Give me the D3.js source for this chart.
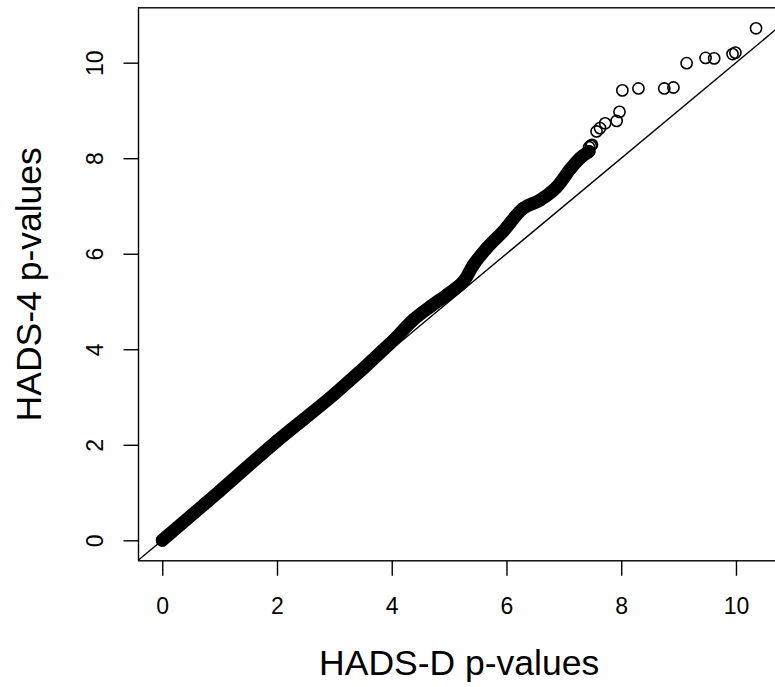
<!DOCTYPE html>
<html>
<head>
<meta charset="utf-8">
<script src="https://cdn.jsdelivr.net/npm/d3@7"></script>
<style>
  body { margin: 0; background: white; }
  svg { display: block; font-family: "Liberation Sans", Arial, Helvetica, sans-serif; }
</style>
</head>
<body>
<div id="vis"></div>
<script>
const width = 775;
const height = 687;

// dense band of points (read along the centre of the black band)
const bandX = [0, 1, 2, 3, 3.97, 4.38, 4.67, 4.96, 5.25, 5.42, 5.65, 5.95, 6.29, 6.58, 6.87, 7.11, 7.28, 7.44];
const bandY = [0, 1.03, 2.08, 3.06, 4.12, 4.62, 4.89, 5.14, 5.42, 5.76, 6.11, 6.48, 6.95, 7.12, 7.39, 7.77, 8.00, 8.14];

// separate points in the upper tail
const tailX = [7.44, 7.47, 7.49, 7.57, 7.63, 7.72, 7.92, 7.97, 8.02, 8.30, 8.75, 8.91, 9.14, 9.47, 9.62, 9.94, 9.99, 10.35];
const tailY = [8.23, 8.26, 8.28, 8.56, 8.63, 8.73, 8.78, 8.97, 9.42, 9.46, 9.46, 9.48, 9.99, 10.10, 10.09, 10.18, 10.21, 10.72];

const xTicks = [0, 2, 4, 6, 8, 10];
const yTicks = [0, 2, 4, 6, 8, 10];

const xLabel = "HADS-D p-values";
const yLabel = "HADS-4 p-values";

const SVG = d3.select("#vis").append("svg")
  .attr("width", width)
  .attr("height", height);

const mLeft = 138.5, mRight = 779.8, mTop = 7.8, mBottom = 560.8;

const x = d3.scaleLinear().domain([-0.414, 10.764]).range([mLeft, mRight]);
const y = d3.scaleLinear().domain([-0.429, 11.149]).range([mBottom, mTop]);

SVG.append("clipPath").attr("id", "plotclip")
  .append("rect")
  .attr("x", mLeft).attr("y", mTop)
  .attr("width", mRight - mLeft).attr("height", mBottom - mTop);

const plot = SVG.append("g").attr("clip-path", "url(#plotclip)");

// y = x reference line
plot.append("line")
  .attr("x1", x(-0.414)).attr("y1", y(-0.414))
  .attr("x2", x(10.764)).attr("y2", y(10.764))
  .attr("stroke", "black")
  .attr("stroke-width", 1.4);

const band = bandX.map((d, i) => [d, bandY[i]]);
const tail = tailX.map((d, i) => [d, tailY[i]]);

// the band is thousands of overlapping circles, drawn as one thick line
plot.append("path")
  .datum(band)
  .attr("d", d3.line().x(d => x(d[0])).y(d => y(d[1])).curve(d3.curveCatmullRom))
  .attr("fill", "none")
  .attr("stroke", "black")
  .attr("stroke-width", 13)
  .attr("stroke-linecap", "round")
  .attr("stroke-linejoin", "round");

plot.selectAll("circle")
  .data(band.concat(tail))
  .enter()
  .append("circle")
  .attr("cx", d => x(d[0]))
  .attr("cy", d => y(d[1]))
  .attr("r", 5.6)
  .attr("fill", "none")
  .attr("stroke", "black")
  .attr("stroke-width", 1.6);

// box
SVG.append("rect")
  .attr("x", mLeft).attr("y", mTop)
  .attr("width", mRight - mLeft).attr("height", mBottom - mTop)
  .attr("fill", "none")
  .attr("stroke", "black")
  .attr("stroke-width", 1.4);

// x axis
const xAxis = d3.axisBottom(x).tickValues(xTicks).tickSize(15).tickPadding(22).tickFormat(d3.format("d"));
const gx = SVG.append("g").attr("transform", `translate(0,${mBottom})`).call(xAxis);
gx.select(".domain").remove();
gx.selectAll("line").attr("stroke-width", 1.4);
gx.selectAll("text").attr("font-size", 23).attr("fill", "black").attr("font-family", null);

// y axis, labels rotated as in R
const yAxis = d3.axisLeft(y).tickValues(yTicks).tickSize(15).tickPadding(22).tickFormat(d3.format("d"));
const gy = SVG.append("g").attr("transform", `translate(${mLeft},0)`).call(yAxis);
gy.select(".domain").remove();
gy.selectAll("line").attr("stroke-width", 1.4);
gy.selectAll("text")
  .attr("font-size", 23)
  .attr("fill", "black")
  .attr("font-family", null)
  .attr("x", null).attr("dy", null)
  .attr("text-anchor", "middle")
  .attr("transform", "translate(-35.5,0) rotate(-90)");

SVG.append("text")
  .attr("x", (mLeft + mRight) / 2)
  .attr("y", 675)
  .attr("text-anchor", "middle")
  .attr("font-size", 35.5)
  .text(xLabel);

SVG.append("text")
  .attr("transform", `translate(41,${(mTop + mBottom) / 2}) rotate(-90)`)
  .attr("text-anchor", "middle")
  .attr("font-size", 35.5)
  .text(yLabel);
</script>
</body>
</html>
